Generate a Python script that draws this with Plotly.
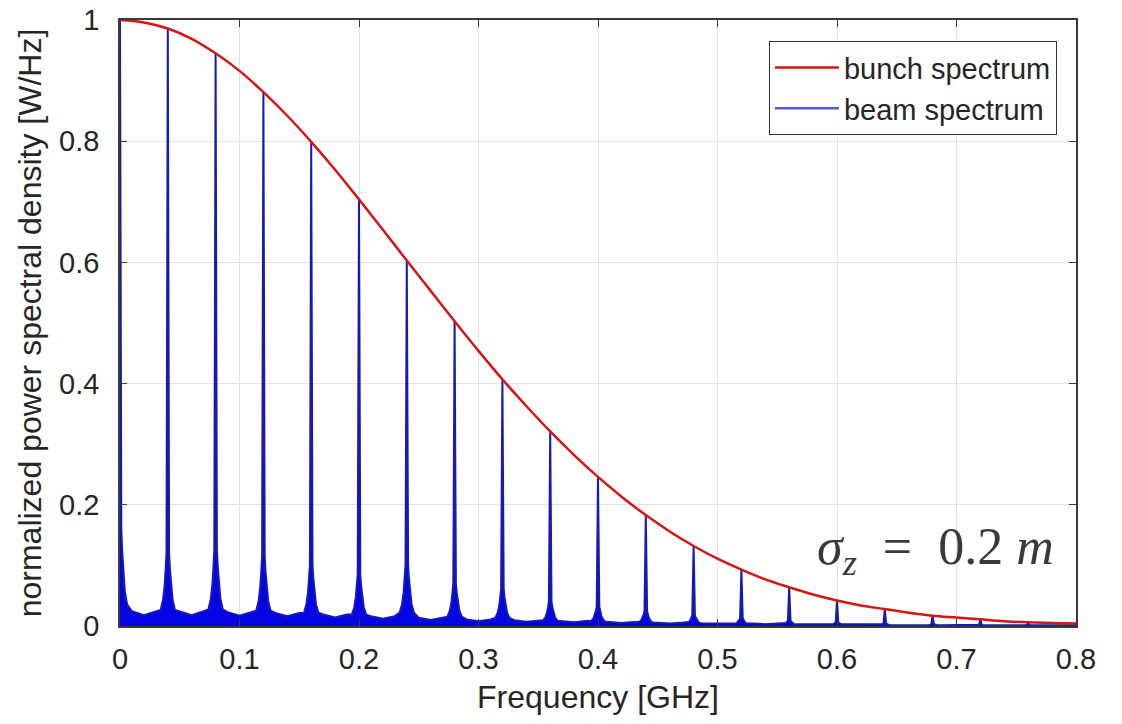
import plotly.graph_objects as go

# ---------------- data ----------------
# bunch spectrum (red curve), sampled every 0.02 GHz
bunch_freq = [0.00, 0.02, 0.04, 0.06, 0.08, 0.10, 0.12, 0.14, 0.16, 0.18,
              0.20, 0.22, 0.24, 0.26, 0.28, 0.30, 0.32, 0.34, 0.36, 0.38,
              0.40, 0.42, 0.44, 0.46, 0.48, 0.50, 0.52, 0.54, 0.56, 0.58,
              0.60, 0.62, 0.64, 0.66, 0.68, 0.70, 0.72, 0.74, 0.76, 0.78, 0.80]
bunch_psd = [1.000, 0.996, 0.986, 0.969, 0.945, 0.916, 0.881, 0.842, 0.799, 0.753,
             0.704, 0.654, 0.603, 0.553, 0.503, 0.454, 0.407, 0.363, 0.321, 0.282,
             0.246, 0.213, 0.183, 0.156, 0.132, 0.111, 0.093, 0.077, 0.064, 0.052,
             0.042, 0.034, 0.028, 0.022, 0.017, 0.014, 0.011, 0.008, 0.006, 0.005, 0.004]

# beam spectrum (blue): spike lines, their broadened bases and the floor between them
spike_freq = [0.00, 0.04, 0.08, 0.12, 0.16, 0.20, 0.24, 0.28, 0.32, 0.36, 0.40,
              0.44, 0.48, 0.52, 0.56, 0.60, 0.64, 0.68, 0.72, 0.76, 0.80]
spike_peak = [1.000, 0.986, 0.945, 0.881, 0.799, 0.704, 0.603, 0.503, 0.407, 0.321, 0.246,
              0.183, 0.132, 0.093, 0.064, 0.042, 0.028, 0.017, 0.011, 0.006, 0.004]
spike_skirt = [0.160, 0.120, 0.125, 0.115, 0.100, 0.085, 0.100, 0.070, 0.060, 0.040, 0.032,
               0.024, 0.018, 0.013, 0.009, 0.006, 0.004, 0.003, 0.002, 0.001, 0.001]
valley_floor = [0.018, 0.018, 0.017, 0.016, 0.014, 0.012, 0.010, 0.008, 0.007, 0.006,
                0.005, 0.004, 0.003, 0.003, 0.002, 0.002, 0.001, 0.001, 0.001, 0.001]

x_ticks = [0, 0.1, 0.2, 0.3, 0.4, 0.5, 0.6, 0.7, 0.8]
x_ticktext = ["0", "0.1", "0.2", "0.3", "0.4", "0.5", "0.6", "0.7", "0.8"]
y_ticks = [0, 0.2, 0.4, 0.6, 0.8, 1.0]
y_ticktext = ["0", "0.2", "0.4", "0.6", "0.8", "1"]

# ---------------- build the beam trace (spike shape is styling) ----------------
skirt_off = [0.0060, 0.0040, 0.0027, 0.0018, 0.0011]   # GHz offsets of skirt points
skirt_rel = [0.22, 0.36, 0.55, 0.78, 1.0]             # fraction of skirt height
shoulder_off = 0.010
shoulder_rel = 1.35                                    # valley floor rises near spikes
beam_x, beam_y = [], []
n = len(spike_freq)
for i in range(n):
    f, p, s = spike_freq[i], spike_peak[i], spike_skirt[i]
    vl = valley_floor[i - 1] if i > 0 else valley_floor[0]
    vr = valley_floor[i] if i < n - 1 else valley_floor[-1]
    if i > 0:
        beam_x.append((spike_freq[i - 1] + f) / 2)
        beam_y.append(vl)
    beam_x.append(f - shoulder_off)
    beam_y.append(vl * shoulder_rel)
    for o, r in zip(skirt_off, skirt_rel):
        beam_x.append(f - o)
        beam_y.append(max(vl * shoulder_rel, s * r))
    beam_x.append(f)
    beam_y.append(p)
    for o, r in zip(reversed(skirt_off), reversed(skirt_rel)):
        beam_x.append(f + o)
        beam_y.append(max(vr * shoulder_rel, s * r))
    beam_x.append(f + shoulder_off)
    beam_y.append(vr * shoulder_rel)
beam_x.append(spike_freq[-1] + 0.02)
beam_y.append(valley_floor[-1])

BLUE_FILL = "rgb(5,5,228)"
BLUE_LINE = "rgb(25,25,180)"
RED = "rgb(212,22,22)"
TICKFONT = dict(family="Liberation Sans, Arial, sans-serif", size=29, color="#262626")
XTITLEFONT = dict(family="Liberation Sans, Arial, sans-serif", size=32, color="#262626")
YTITLEFONT = dict(family="Liberation Sans, Arial, sans-serif", size=32, color="#262626")

fig = go.Figure()
fig.add_trace(go.Scatter(x=beam_x, y=beam_y, mode="lines", fill="tozeroy",
                         fillcolor=BLUE_FILL, line=dict(color=BLUE_LINE, width=2),
                         showlegend=False, hoverinfo="skip"))
fig.add_trace(go.Scatter(x=bunch_freq, y=bunch_psd, mode="lines", name="bunch spectrum",
                         line=dict(color=RED, width=2.5, shape="spline"), legendrank=1))
fig.add_trace(go.Scatter(x=[None], y=[None], mode="lines", name="beam spectrum",
                         line=dict(color="rgb(90,90,220)", width=2.5), legendrank=2))

fig.update_layout(
    width=1122, height=724,
    margin=dict(l=120, r=46, t=20, b=98, autoexpand=False),
    paper_bgcolor="white", plot_bgcolor="white",
    font=dict(family="Liberation Sans, Arial, sans-serif", color="#262626"),
    legend=dict(x=0.98, y=0.965, xanchor="right", yanchor="top",
                bgcolor="white", bordercolor="#333333", borderwidth=1,
                font=dict(family="Liberation Sans, Arial, sans-serif", size=29, color="#262626"),
                itemwidth=64, tracegroupgap=0),
    annotations=[dict(x=0.783, y=0.125, xref="x", yref="y", xanchor="right", yanchor="middle",
                      text="<i>σ<sub>z</sub></i>  =  0.2 <i>m</i>", showarrow=False,
                      font=dict(family="Liberation Serif, DejaVu Serif, serif", size=52,
                                color="#3a3a3a"))],
)
fig.update_xaxes(range=[0, 0.8], tickvals=x_ticks, ticktext=x_ticktext,
                 showgrid=True, gridcolor="#e3e3e3", gridwidth=1, zeroline=False,
                 showline=True, linecolor="#3a3a3a", linewidth=1.5, mirror="allticks",
                 ticks="inside", ticklen=7, tickcolor="#3a3a3a", tickfont=TICKFONT,
                 ticklabelstandoff=6, automargin=False,
                 title=dict(text="Frequency [GHz]", font=XTITLEFONT, standoff=12))
fig.update_yaxes(range=[0, 1], tickvals=y_ticks, ticktext=y_ticktext,
                 showgrid=True, gridcolor="#e3e3e3", gridwidth=1, zeroline=False,
                 showline=True, linecolor="#3a3a3a", linewidth=1.5, mirror="allticks",
                 ticks="inside", ticklen=7, tickcolor="#3a3a3a", tickfont=TICKFONT,
                 ticklabelstandoff=13, automargin=False,
                 title=dict(text="normalized power spectral density [W/Hz]", font=YTITLEFONT,
                            standoff=8))

fig.write_html("out.html")
